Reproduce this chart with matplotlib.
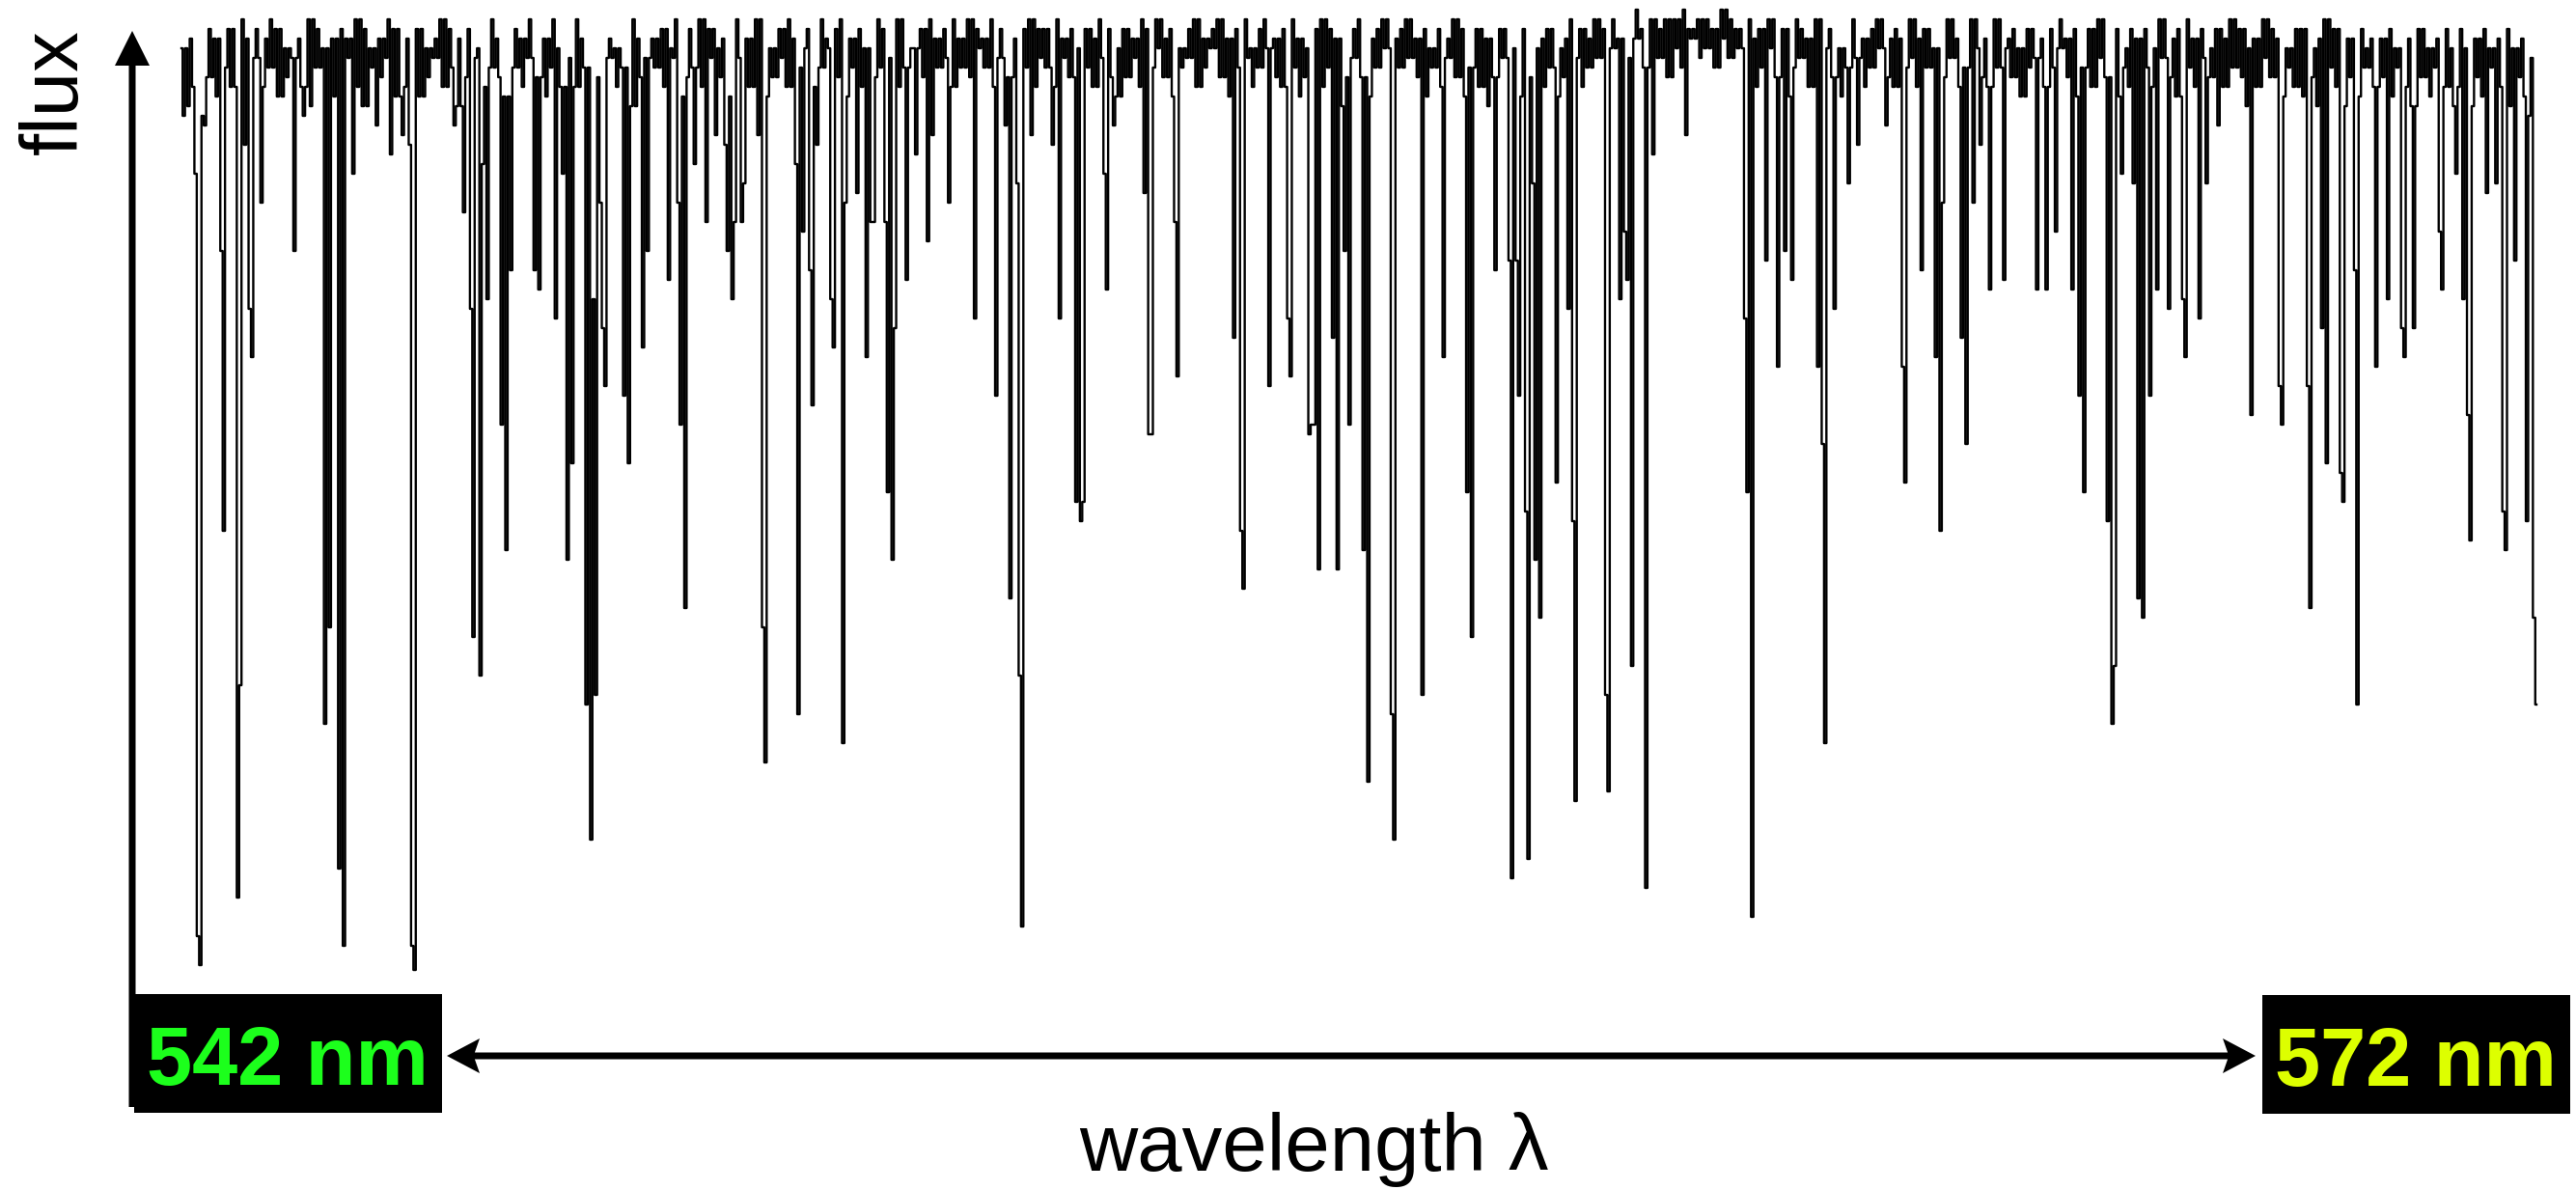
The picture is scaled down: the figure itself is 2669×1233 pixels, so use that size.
import numpy as np
import matplotlib
matplotlib.use("Agg")
import matplotlib.pyplot as plt
from matplotlib.patches import Rectangle, FancyArrow

# ---------------- data ----------------
wl_start, wl_end = 542.0, 572.0
label_left = "542 nm"
label_right = "572 nm"
xlabel = "wavelength λ"
ylabel = "flux"

# upper and lower edge of the dense continuum band, every 0.1 nm (542.0 ... 572.0)
band_top = [
    0.96, 0.97, 0.95, 0.98, 0.97, 0.96, 0.98, 0.99, 0.97, 0.98,
    0.97, 0.99, 0.98, 0.96, 0.98, 0.97, 0.99, 0.98, 0.96, 0.97,
    0.98, 0.97, 0.99, 0.98, 0.96, 0.97, 0.99, 0.98, 0.97, 0.99,
    0.98, 0.96, 0.97, 0.99, 0.98, 0.97, 0.98, 0.96, 0.97, 0.99,
    0.97, 0.96, 0.98, 0.97, 0.99, 0.98, 0.97, 0.99, 0.96, 0.98,
    0.99, 0.97, 0.98, 0.99, 0.97, 0.96, 0.98, 0.99, 0.97, 0.98,
    0.97, 0.98, 0.96, 0.99, 0.98, 0.97, 0.99, 0.98, 0.96, 0.97,
    0.99, 0.98, 0.97, 0.99, 0.98, 0.96, 0.98, 0.99, 0.97, 0.98,
    0.98, 0.99, 0.97, 0.98, 0.99, 0.97, 0.98, 0.96, 0.99, 0.98,
    0.97, 0.99, 0.98, 0.96, 0.98, 0.99, 0.97, 0.98, 0.99, 0.97,
    0.99, 0.98, 0.97, 0.99, 0.98, 0.99, 0.97, 0.98, 0.99, 0.98,
    0.98, 0.99, 0.97, 0.98, 0.99, 0.98, 0.97, 0.99, 0.98, 0.96,
    0.98, 0.97, 0.99, 0.98, 0.99, 0.97, 0.98, 0.96, 0.98, 0.99,
    0.97, 0.98, 0.99, 0.97, 0.98, 0.99, 0.96, 0.98, 0.99, 0.97,
    0.98, 0.99, 0.97, 0.96, 0.98, 0.99, 0.98, 0.97, 0.96, 0.98,
    0.99, 0.97, 0.98, 0.99, 0.97, 0.98, 0.99, 0.97, 0.98, 0.96,
    0.98, 0.97, 0.99, 0.98, 0.96, 0.98, 0.97, 0.99, 0.98, 0.96,
    0.97, 0.98, 0.96, 0.97, 0.98, 0.96, 0.97, 0.99, 0.98, 0.97,
    0.99, 0.98, 0.99, 0.97, 0.99, 1.00, 0.98, 0.99, 0.98, 0.99,
    0.99, 1.00, 0.98, 0.99, 0.99, 0.98, 1.00, 0.99, 0.98, 0.99,
    0.97, 0.98, 0.99, 0.97, 0.98, 0.99, 0.98, 0.97, 0.99, 0.98,
    0.98, 0.96, 0.98, 0.99, 0.97, 0.98, 0.99, 0.97, 0.98, 0.97,
    0.99, 0.97, 0.98, 0.96, 0.98, 0.99, 0.97, 0.98, 0.99, 0.97,
    0.98, 0.99, 0.97, 0.98, 0.96, 0.98, 0.99, 0.97, 0.98, 0.99,
    0.97, 0.98, 0.96, 0.98, 0.99, 0.97, 0.98, 0.96, 0.98, 0.97,
    0.98, 0.96, 0.99, 0.97, 0.98, 0.99, 0.97, 0.98, 0.96, 0.98,
    0.97, 0.99, 0.98, 0.96, 0.97, 0.99, 0.98, 0.97, 0.96, 0.98,
    0.98, 0.96, 0.97, 0.99, 0.98, 0.96, 0.97, 0.98, 0.96, 0.97,
    0.97, 0.98, 0.96, 0.97, 0.99, 0.98, 0.96, 0.97, 0.98, 0.96,
    0.98, 0.96, 0.97, 0.98, 0.96, 0.97, 0.98, 0.96, 0.97, 0.95,
    0.95,
]
band_low = [
    0.90, 0.92, 0.89, 0.93, 0.91, 0.94, 0.92, 0.90, 0.93, 0.95,
    0.92, 0.94, 0.91, 0.93, 0.95, 0.92, 0.90, 0.94, 0.93, 0.91,
    0.93, 0.95, 0.92, 0.90, 0.94, 0.93, 0.95, 0.91, 0.92, 0.94,
    0.91, 0.93, 0.95, 0.92, 0.94, 0.90, 0.93, 0.95, 0.92, 0.94,
    0.93, 0.91, 0.94, 0.92, 0.95, 0.93, 0.91, 0.94, 0.92, 0.95,
    0.92, 0.94, 0.91, 0.93, 0.95, 0.92, 0.94, 0.90, 0.93, 0.95,
    0.94, 0.92, 0.95, 0.91, 0.93, 0.94, 0.92, 0.95, 0.93, 0.91,
    0.93, 0.95, 0.92, 0.94, 0.91, 0.93, 0.95, 0.92, 0.94, 0.96,
    0.92, 0.94, 0.96, 0.93, 0.91, 0.94, 0.92, 0.95, 0.93, 0.94,
    0.95, 0.92, 0.94, 0.96, 0.93, 0.91, 0.94, 0.95, 0.92, 0.94,
    0.93, 0.96, 0.94, 0.92, 0.95, 0.93, 0.96, 0.94, 0.92, 0.95,
    0.94, 0.92, 0.95, 0.93, 0.96, 0.94, 0.92, 0.95, 0.93, 0.91,
    0.93, 0.95, 0.92, 0.94, 0.96, 0.93, 0.91, 0.94, 0.95, 0.92,
    0.94, 0.96, 0.93, 0.91, 0.94, 0.95, 0.92, 0.94, 0.96, 0.93,
    0.92, 0.94, 0.91, 0.93, 0.95, 0.92, 0.94, 0.90, 0.93, 0.95,
    0.93, 0.91, 0.94, 0.96, 0.92, 0.94, 0.95, 0.93, 0.91, 0.94,
    0.92, 0.95, 0.93, 0.91, 0.94, 0.92, 0.90, 0.93, 0.95, 0.92,
    0.91, 0.93, 0.90, 0.92, 0.94, 0.91, 0.93, 0.95, 0.92, 0.94,
    0.95, 0.93, 0.96, 0.94, 0.95, 0.97, 0.94, 0.96, 0.95, 0.93,
    0.96, 0.94, 0.97, 0.95, 0.96, 0.94, 0.97, 0.95, 0.96, 0.94,
    0.92, 0.94, 0.96, 0.93, 0.91, 0.94, 0.95, 0.92, 0.94, 0.96,
    0.93, 0.91, 0.94, 0.95, 0.92, 0.94, 0.96, 0.93, 0.92, 0.94,
    0.95, 0.92, 0.94, 0.91, 0.93, 0.95, 0.92, 0.94, 0.96, 0.93,
    0.92, 0.94, 0.96, 0.93, 0.91, 0.94, 0.95, 0.92, 0.94, 0.96,
    0.93, 0.91, 0.94, 0.92, 0.95, 0.93, 0.91, 0.94, 0.92, 0.95,
    0.94, 0.92, 0.95, 0.93, 0.91, 0.94, 0.92, 0.95, 0.93, 0.91,
    0.92, 0.94, 0.93, 0.90, 0.92, 0.95, 0.93, 0.91, 0.94, 0.92,
    0.91, 0.93, 0.90, 0.94, 0.92, 0.90, 0.93, 0.91, 0.94, 0.92,
    0.93, 0.91, 0.94, 0.92, 0.90, 0.93, 0.91, 0.94, 0.92, 0.90,
    0.92, 0.90, 0.93, 0.91, 0.94, 0.92, 0.90, 0.93, 0.91, 0.89,
    0.89,
]

# absorption lines: wavelength (nm) and minimum flux
line_nm = [
    542.02, 542.17, 542.21, 542.25, 542.29, 542.52, 542.54, 542.72, 542.76, 542.80,
    542.87, 542.91, 543.01, 543.45, 543.56, 543.84, 543.88, 544.02, 544.06, 544.20,
    544.50, 544.68, 544.82, 544.90, 544.94, 544.98, 545.48, 545.61, 545.69, 545.73,
    545.81, 545.85, 545.90, 546.09, 546.13, 546.19, 546.51, 546.55, 546.78, 546.86,
    546.93, 546.97, 547.17, 547.21, 547.25, 547.29, 547.33, 547.37, 547.41, 547.65,
    547.69, 547.89, 547.93, 548.20, 548.32, 548.37, 548.41, 548.54, 548.69, 548.81,
    548.93, 548.97, 549.01, 549.05, 549.13, 549.17, 549.35, 549.40, 549.44, 549.83,
    549.87, 549.91, 550.00, 550.04, 550.11, 550.28, 550.32, 550.43, 550.47, 550.61,
    550.74, 550.78, 550.83, 550.97, 551.01, 551.05, 551.09, 551.25, 551.36, 551.50,
    551.56, 551.77, 552.11, 552.39, 552.51, 552.55, 552.64, 552.68, 552.72, 552.82,
    553.10, 553.19, 553.41, 553.45, 553.49, 553.75, 553.80, 553.88, 554.28, 554.32,
    554.36, 554.65, 554.69, 555.41, 555.50, 555.54, 555.87, 556.09, 556.13, 556.36,
    556.40, 556.44, 556.48, 556.68, 556.72, 556.83, 556.89, 557.07, 557.11, 557.42,
    557.46, 557.81, 558.07, 558.39, 558.43, 558.73, 558.92, 558.96, 559.00, 559.04,
    559.12, 559.16, 559.22, 559.26, 559.30, 559.53, 559.68, 559.73, 559.77, 560.15,
    560.19, 560.33, 560.39, 560.43, 560.47, 560.66, 560.76, 561.16, 561.92, 561.96,
    562.00, 562.19, 562.34, 562.42, 562.53, 562.86, 562.90, 562.94, 563.06, 563.25,
    563.37, 563.73, 563.93, 563.97, 564.17, 564.36, 564.40, 564.44, 564.69, 564.73,
    564.82, 564.93, 565.05, 565.21, 565.64, 565.75, 565.89, 566.09, 566.19, 566.23,
    566.55, 566.59, 566.63, 566.71, 566.87, 566.94, 566.98, 567.07, 567.16, 567.33,
    567.49, 567.53, 567.70, 567.81, 567.94, 568.37, 568.73, 568.77, 569.08, 569.12,
    569.28, 569.32, 569.50, 569.54, 569.69, 569.73, 569.95, 570.10, 570.28, 570.32,
    570.45, 570.77, 570.81, 570.99, 571.08, 571.12, 571.16, 571.36, 571.50, 571.58,
    571.62, 571.73, 571.88, 571.96, 572.00,
]
line_flux = [
    0.89, 0.83, 0.04, 0.01, 0.88, 0.75, 0.46, 0.08, 0.30, 0.86,
    0.69, 0.64, 0.80, 0.75, 0.89, 0.26, 0.36, 0.11, 0.03, 0.83,
    0.88, 0.85, 0.87, 0.86, 0.03, 0.005, 0.88, 0.79, 0.69, 0.35,
    0.31, 0.84, 0.70, 0.57, 0.44, 0.73, 0.73, 0.71, 0.68, 0.83,
    0.43, 0.53, 0.28, 0.14, 0.70, 0.29, 0.80, 0.67, 0.61, 0.60,
    0.53, 0.65, 0.75, 0.72, 0.80, 0.57, 0.38, 0.84, 0.78, 0.87,
    0.86, 0.75, 0.70, 0.78, 0.78, 0.82, 0.87, 0.36, 0.22, 0.84,
    0.27, 0.77, 0.73, 0.59, 0.86, 0.70, 0.65, 0.24, 0.80, 0.81,
    0.64, 0.78, 0.78, 0.78, 0.50, 0.43, 0.67, 0.72, 0.85, 0.76,
    0.87, 0.80, 0.68, 0.60, 0.88, 0.39, 0.82, 0.31, 0.05, 0.87,
    0.86, 0.68, 0.49, 0.47, 0.49, 0.83, 0.71, 0.88, 0.81, 0.56,
    0.56, 0.78, 0.62, 0.66, 0.46, 0.40, 0.61, 0.68, 0.62, 0.56,
    0.57, 0.57, 0.42, 0.66, 0.42, 0.75, 0.57, 0.44, 0.20, 0.27,
    0.14, 0.29, 0.64, 0.50, 0.35, 0.73, 0.74, 0.10, 0.74, 0.60,
    0.48, 0.12, 0.82, 0.43, 0.37, 0.51, 0.69, 0.47, 0.18, 0.29,
    0.19, 0.70, 0.77, 0.72, 0.32, 0.09, 0.85, 0.87, 0.68, 0.50,
    0.06, 0.74, 0.63, 0.75, 0.72, 0.63, 0.55, 0.24, 0.69, 0.82,
    0.86, 0.88, 0.63, 0.51, 0.73, 0.64, 0.46, 0.80, 0.66, 0.55,
    0.80, 0.86, 0.71, 0.72, 0.71, 0.71, 0.77, 0.71, 0.60, 0.50,
    0.47, 0.26, 0.32, 0.83, 0.82, 0.39, 0.37, 0.60, 0.71, 0.69,
    0.70, 0.64, 0.68, 0.82, 0.88, 0.58, 0.61, 0.57, 0.61, 0.38,
    0.67, 0.53, 0.52, 0.49, 0.73, 0.28, 0.63, 0.70, 0.67, 0.64,
    0.67, 0.77, 0.71, 0.83, 0.70, 0.58, 0.45, 0.81, 0.82, 0.48,
    0.44, 0.74, 0.47, 0.37, 0.28,
]

# ---------------- build spectrum on the instrument grid ----------------
grid_step = 0.03      # sampling of the spectrograph
band_step = 0.1
grid = np.round(np.arange(wl_start, wl_end + grid_step / 2, grid_step), 4)
top_arr = np.array(band_top)
low_arr = np.array(band_low)
cell = np.minimum(((grid - wl_start) / band_step + 1e-6).astype(int), len(top_arr) - 1)
flux = np.where(np.arange(len(grid)) % 2 == 0, top_arr[cell], low_arr[cell])
for lam, f in zip(line_nm, line_flux):
    j = int(round((lam - wl_start) / grid_step))
    j = min(max(j, 0), len(flux) - 1)
    flux[j] = min(flux[j], f)

# ---------------- figure ----------------
W, H = 2669, 1233
fig = plt.figure(figsize=(W / 100, H / 100), dpi=100)
fig.patch.set_facecolor("white")

ax = fig.add_axes([188 / W, (H - 1010) / H, 2440 / W, 1000 / H])
ax.step(grid, flux, where="mid", color="black", lw=1.7, clip_on=False)
ax.set_xlim(wl_start, wl_end)
ax.set_ylim(0, 1)
ax.axis("off")

ov = fig.add_axes([0, 0, 1, 1])
ov.set_xlim(0, W)
ov.set_ylim(H, 0)
ov.axis("off")

# flux axis arrow
ov.add_patch(FancyArrow(137, 1147, 0, 32 - 1147, width=7, head_width=36, head_length=36,
                        length_includes_head=True, color="black", lw=0))

# wavelength double arrow
cx = (463 + 2337) / 2
for tip in (463, 2337):
    ov.add_patch(FancyArrow(cx, 1094, tip - cx, 0, width=7, head_width=36, head_length=34,
                            length_includes_head=True, color="black", lw=0, overhang=0.15))

# label boxes
ov.add_patch(Rectangle((139, 1030), 319, 123, color="black", lw=0))
ov.add_patch(Rectangle((2344, 1031), 319, 123, color="black", lw=0))

font = ["Liberation Sans", "DejaVu Sans"]
ov.text(298, 1124, label_left, color="#1cff1c", fontsize=61, fontweight="bold",
        family=font, ha="center", va="baseline")
ov.text(2503, 1125, label_right, color="#ddff00", fontsize=61, fontweight="bold",
        family=font, ha="center", va="baseline")
ov.text(1361, 1213, xlabel, color="black", fontsize=60, family=font,
        ha="center", va="baseline")
ov.text(80, 95, ylabel, color="black", fontsize=60, family=font, rotation=90,
        rotation_mode="anchor", ha="center", va="baseline")

fig.savefig("out.png", dpi=100, facecolor="white")
